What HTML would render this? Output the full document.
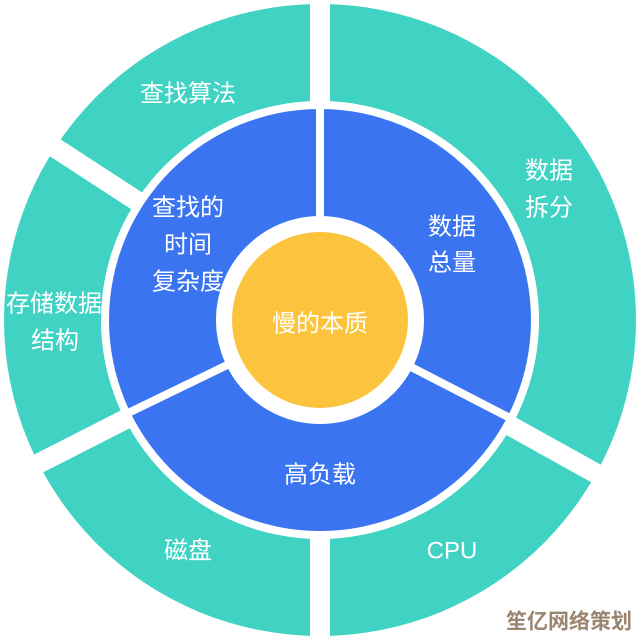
<!DOCTYPE html>
<html><head><meta charset="utf-8"><style>
html,body{margin:0;padding:0;background:#fff;width:640px;height:641px;overflow:hidden}
text{font-family:"Liberation Sans","Noto Sans CJK SC",sans-serif;fill:#fff;font-size:24px}
</style></head><body>
<svg width="640" height="641" viewBox="0 0 640 641" xmlns="http://www.w3.org/2000/svg">
<rect width="640" height="641" fill="#fff"/>
<circle cx="320" cy="320" r="316" fill="#40d3c3"/>
<g text-anchor="middle" dominant-baseline="central">
<text x="188" y="94">查找算法</text>
<text x="549" y="171">数据</text>
<text x="549" y="208">拆分</text>
<text x="54" y="304">存储数据</text>
<text x="55" y="341">结构</text>
<text x="188" y="551">磁盘</text>
<text x="452" y="551">CPU</text>
</g>
<circle cx="320" cy="320" r="219" fill="#fff"/>
<g stroke="#fff" stroke-width="20">
<line x1="320" y1="320" x2="320" y2="-10"/>
<line x1="320" y1="320" x2="320" y2="660"/>
<line x1="320" y1="320" x2="37" y2="136"/>
<line x1="320" y1="320" x2="20" y2="473"/>
<line x1="320" y1="320" x2="615" y2="484"/>
</g>
<circle cx="320" cy="320" r="211" fill="#3b74f1"/>
<g text-anchor="middle" dominant-baseline="central">
<text x="188" y="208">查找的</text>
<text x="188" y="245">时间</text>
<text x="188" y="282">复杂度</text>
<text x="452" y="227">数据</text>
<text x="452" y="263">总量</text>
<text x="320" y="475">高负载</text>
</g>
<g stroke="#fff" stroke-width="8">
<line x1="320" y1="320" x2="320" y2="100"/>
<line x1="320" y1="320" x2="122" y2="416"/>
<line x1="320" y1="320" x2="508" y2="417"/>
</g>
<circle cx="320" cy="320" r="104" fill="#fff"/>
<circle cx="320" cy="320" r="88" fill="#fbc43c"/>
<text x="320" y="324" text-anchor="middle" dominant-baseline="central">慢的本质</text>
<text x="569" y="622" text-anchor="middle" dominant-baseline="central" style="fill:#9a8570;font-weight:bold;font-size:21px">笙亿网络策划</text>
</svg>
</body></html>
